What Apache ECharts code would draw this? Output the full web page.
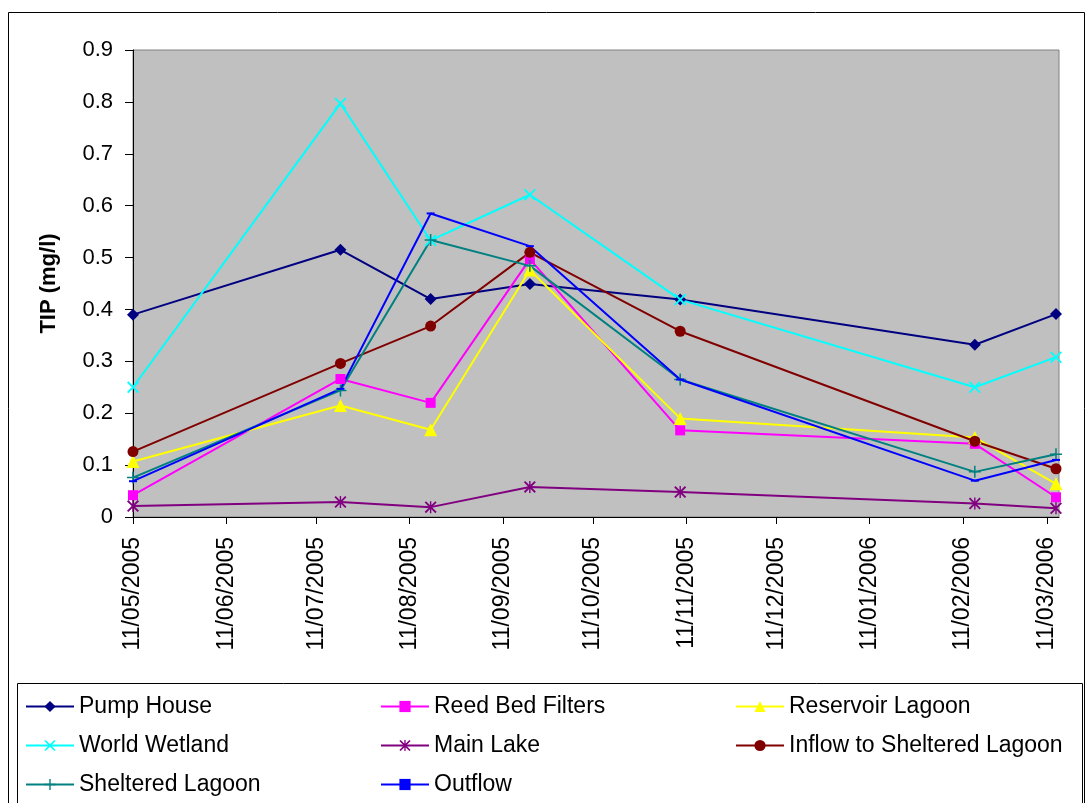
<!DOCTYPE html>
<html>
<head>
<meta charset="utf-8">
<script src="https://cdn.jsdelivr.net/npm/echarts@6/dist/echarts.min.js"></script>
<style>
  html, body { margin: 0; padding: 0; background: #ffffff; }
  #chart { width: 1086px; height: 803px; }
</style>
</head>
<body>
<div id="chart"></div>
<script>
// Sampling dates (dd/mm/yyyy on the axis)
const sampleDates = ['2005-05-11', '2005-07-19', '2005-08-18', '2005-09-20', '2005-11-09', '2006-02-15', '2006-03-14'];

// Monthly tick positions on the date axis
const tickDates = ['2005-05-11', '2005-06-11', '2005-07-11', '2005-08-11', '2005-09-11', '2005-10-11',
                   '2005-11-11', '2005-12-11', '2006-01-11', '2006-02-11', '2006-03-11'];

// Total inorganic phosphorus (mg/l) at each site
const pumpHouse       = [0.390, 0.515, 0.420, 0.449, 0.419, 0.332, 0.391];
const reedBedFilters  = [0.042, 0.266, 0.220, 0.497, 0.167, 0.141, 0.038];
const reservoirLagoon = [0.107, 0.215, 0.168, 0.476, 0.190, 0.153, 0.064];
const worldWetland    = [0.250, 0.797, 0.533, 0.621, 0.419, 0.250, 0.308];
const mainLake        = [0.021, 0.029, 0.019, 0.058, 0.048, 0.026, 0.017];
const inflowSheltered = [0.126, 0.296, 0.368, 0.510, 0.358, 0.146, 0.093];
const shelteredLagoon = [0.076, 0.244, 0.534, 0.484, 0.265, 0.087, 0.121];
const outflow         = [0.069, 0.247, 0.585, 0.522, 0.265, 0.070, 0.110];

const yMin = 0, yMax = 0.9, yStep = 0.1;
const axisStart = '2005-05-11', axisEnd = '2006-03-15';

function toTime(s) {
  const p = s.split('-').map(Number);
  return Date.UTC(p[0], p[1] - 1, p[2]);
}
function pad(n) { return (n < 10 ? '0' : '') + n; }

const FONT = 'Liberation Sans, Arial, sans-serif';

// Marker outlines
const SYM_X = 'path://M0,1.3L1.3,0L6,4.7L10.7,0L12,1.3L7.3,6L12,10.7L10.7,12L6,7.3L1.3,12L0,10.7L4.7,6Z';
const SYM_PLUS = 'path://M5.25,0H6.75V5.25H12V6.75H6.75V12H5.25V6.75H0V5.25H5.25Z';
const SYM_STAR = 'path://M0,1.3L1.3,0L6,4.7L10.7,0L12,1.3L7.3,6L12,10.7L10.7,12L6,7.3L1.3,12L0,10.7L4.7,6Z' +
                 'M5.3,0H6.7V12H5.3Z';
const SYM_DASH = 'path://M0,0H8V4H0Z';

function pairs(values) {
  return values.map((v, i) => [toTime(sampleDates[i]), v]);
}

function lineSeries(name, values, color, symbol, size) {
  return {
    name: name,
    type: 'line',
    data: pairs(values),
    symbol: symbol,
    symbolSize: size,
    symbolKeepAspect: true,
    showAllSymbol: true,
    lineStyle: { color: color, width: 2 },
    itemStyle: { color: color, borderWidth: 0 },
    emphasis: { disabled: true }
  };
}

const series = [
  lineSeries('Pump House', pumpHouse, '#000080', 'diamond', 12),
  lineSeries('Reed Bed Filters', reedBedFilters, '#FF00FF', 'rect', 10),
  lineSeries('Reservoir Lagoon', reservoirLagoon, '#FFFF00', 'triangle', 13),
  lineSeries('World Wetland', worldWetland, '#00FFFF', SYM_X, 12),
  lineSeries('Main Lake', mainLake, '#800080', SYM_STAR, 12),
  lineSeries('Inflow to Sheltered Lagoon', inflowSheltered, '#800000', 'circle', 11),
  lineSeries('Sheltered Lagoon', shelteredLagoon, '#008080', SYM_PLUS, 12),
  lineSeries('Outflow', outflow, '#0000FF', SYM_DASH, [8, 4])
];

function legendColumn(left, names) {
  return {
    left: left,
    top: 695,
    height: 108,
    padding: 0,
    orient: 'vertical',
    itemWidth: 48,
    itemHeight: 14,
    itemGap: 16,
    data: names,
    textStyle: { fontFamily: FONT, fontSize: 23, color: '#000000' },
    selectedMode: false
  };
}

const chart = echarts.init(document.getElementById('chart'), null, { renderer: 'canvas' });

chart.setOption({
  animation: false,
  backgroundColor: '#ffffff',
  textStyle: { fontFamily: FONT },
  graphic: [
    { type: 'rect', silent: true, z: -10,
      shape: { x: 8.5, y: 12.5, width: 1076, height: 820 },
      style: { fill: null, stroke: '#000000', lineWidth: 1 } },
    { type: 'rect', silent: true, z: -10,
      shape: { x: 17.5, y: 683.5, width: 1065, height: 140 },
      style: { fill: null, stroke: '#000000', lineWidth: 1 } }
  ],
  grid: {
    left: 133, right: 27, top: 50, bottom: 286,
    show: true, backgroundColor: '#C0C0C0', borderColor: '#808080', borderWidth: 1
  },
  xAxis: {
    type: 'value',
    min: toTime(axisStart),
    max: toTime(axisEnd),
    splitLine: { show: false },
    axisLine: { show: true, lineStyle: { color: '#000000', width: 1 } },
    axisTick: { show: true, length: 7, lineStyle: { color: '#000000' },
                customValues: tickDates.map(toTime) },
    axisLabel: {
      customValues: tickDates.map(toTime),
      rotate: 90,
      margin: 20,
      color: '#000000',
      fontFamily: FONT,
      fontSize: 23,
      formatter: function (val) {
        const d = new Date(val);
        return pad(d.getUTCDate()) + '/' + pad(d.getUTCMonth() + 1) + '/' + d.getUTCFullYear();
      }
    }
  },
  yAxis: {
    type: 'value',
    min: yMin, max: yMax, interval: yStep,
    name: 'TIP (mg/l)',
    nameLocation: 'middle',
    nameGap: 73,
    nameTextStyle: { fontFamily: FONT, fontSize: 22, fontWeight: 'bold', color: '#000000' },
    splitLine: { show: false },
    axisLine: { show: true, lineStyle: { color: '#000000', width: 1 } },
    axisTick: { show: true, length: 8, lineStyle: { color: '#000000' } },
    axisLabel: { margin: 20, color: '#000000', fontFamily: FONT, fontSize: 22 }
  },
  legend: [
    legendColumn(25, ['Pump House', 'World Wetland', 'Sheltered Lagoon']),
    legendColumn(380, ['Reed Bed Filters', 'Main Lake', 'Outflow']),
    legendColumn(735, ['Reservoir Lagoon', 'Inflow to Sheltered Lagoon'])
  ],
  series: series
});
</script>
</body>
</html>
